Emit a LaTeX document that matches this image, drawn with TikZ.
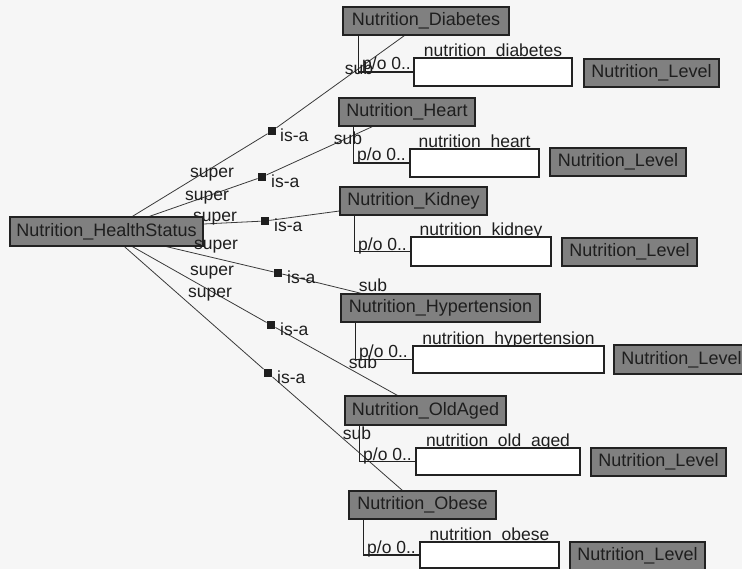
\documentclass[tikz,border=0pt]{standalone}
\usepackage{fontspec}
\setmainfont{Liberation Sans}
\definecolor{paper}{HTML}{F6F6F6}
\definecolor{boxfill}{HTML}{808080}
\definecolor{boxedge}{HTML}{222222}
\definecolor{ink}{HTML}{1E1E1E}
\definecolor{linecol}{HTML}{3A3A3A}
\begin{document}
\begin{tikzpicture}[x=1pt,y=-1pt,
  cls/.style={draw=boxedge, fill=boxfill, line width=1.2pt, inner sep=0pt,
    minimum height=28pt, font=\fontsize{18}{20}\selectfont, text=ink},
  slot/.style={draw=boxedge, fill=white, line width=1.1pt, inner sep=0pt,
    minimum height=28pt},
  lbl/.style={inner sep=0pt, font=\fontsize{17.5}{20}\selectfont, text=ink},
  link/.style={draw=linecol, line width=0.8pt},
  isamark/.style={fill=ink, inner sep=0pt, minimum size=8.5pt},
  slotline/.style={draw=boxedge, line width=1.1pt}
]
\clip (0,0) rectangle (742,569);
\fill[paper] (0,0) rectangle (742,569);

% ---- class boxes (top level) ----
\node[cls, minimum width=193pt, minimum height=29pt] (hs) at (106.5,231.5) {};
\node[cls, minimum width=166pt] (diab) at (426,21) {};
\node[cls, minimum width=136pt] (heart) at (407,112) {};
\node[cls, minimum width=147pt] (kid) at (413.5,201) {};
\node[cls, minimum width=199pt] (hyp) at (440.5,308) {};
\node[cls, minimum width=161pt, minimum height=29pt] (old) at (425.5,410.5) {};
\node[cls, minimum width=147pt] (obese) at (422.5,505) {};

% ---- is-a markers ----
\node[isamark] (m1) at (272,131) {};
\node[isamark] (m2) at (262,177) {};
\node[isamark] (m3) at (265,221) {};
\node[isamark] (m4) at (278,273) {};
\node[isamark] (m5) at (271,325) {};
\node[isamark] (m6) at (268,373) {};

% ---- is-a connectors ----
\draw[link] ([xshift=123pt]hs.north west) -- (m1) -- ([xshift=62pt]diab.south west);
\draw[link] ([xshift=140pt]hs.north west) -- (m2) -- ([xshift=34pt]heart.south west);
\draw[link] ([yshift=7.5pt]hs.east) -- (m3) -- ([yshift=-10pt]kid.west);
\draw[link] ([xshift=157pt]hs.south west) -- (m4) -- ([xshift=21pt]hyp.north west);
\draw[link] ([xshift=123pt]hs.south west) -- (m5) -- ([xshift=53pt]old.north west);
\draw[link] ([xshift=115pt]hs.south west) -- (m6) -- ([xshift=54pt]obese.north west);

% ---- super labels (the third one sits under the root box) ----
\node[lbl] (sp1) at (212,175) {super};
\node[lbl] (sp2) at (207,198) {super};
\node[lbl] (sp3) at (215,219) {super};

% root box and class boxes redrawn on top of the connectors
\node[cls, minimum width=193pt, minimum height=29pt] at (hs) {Nutrition\_HealthStatus};
\node[cls, minimum width=166pt] at (diab) {Nutrition\_Diabetes};
\node[cls, minimum width=136pt] at (heart) {Nutrition\_Heart};
\node[cls, minimum width=147pt] at (kid) {Nutrition\_Kidney};
\node[cls, minimum width=199pt] at (hyp) {Nutrition\_Hypertension};
\node[cls, minimum width=161pt, minimum height=29pt] at (old) {Nutrition\_OldAged};
\node[cls, minimum width=147pt] at (obese) {Nutrition\_Obese};

\node[lbl] (sp4) at (216,247) {super};
\node[lbl] (sp5) at (212,273) {super};
\node[lbl] (sp6) at (210,295) {super};

% ---- is-a texts ----
\node[lbl, anchor=west] (t1) at (280,135) {is-a};
\node[lbl, anchor=west] (t2) at (271,181) {is-a};
\node[lbl, anchor=west] (t3) at (274,225) {is-a};
\node[lbl, anchor=west] (t4) at (287,277) {is-a};
\node[lbl, anchor=west] (t5) at (280,329) {is-a};
\node[lbl, anchor=west] (t6) at (277,377) {is-a};

% ---- sub labels ----
\node[lbl] (sb1) at (359,68) {sub};
\node[lbl] (sb2) at (348,138) {sub};
\node[lbl] (sb4) at (373,285) {sub};
\node[lbl] (sb5) at (363,362) {sub};
\node[lbl] (sb6) at (357,433) {sub};

% ---- slot names (the underscores run into the slot box edge) ----
\node[lbl, anchor=base] (n1) at (493,56.8) {nutrition\_diabetes};
\node[lbl, anchor=base] (n2) at (474.5,147.8) {nutrition\_heart};
\node[lbl, anchor=base] (n3) at (481,235.8) {nutrition\_kidney};
\node[lbl, anchor=base] (n4) at (508.5,344.8) {nutrition\_hypertension};
\node[lbl, anchor=base] (n5) at (498,446.8) {nutrition\_old\_aged};
\node[lbl, anchor=base] (n6) at (489.5,540.8) {nutrition\_obese};

% ---- slot boxes ----
\node[slot, minimum width=158pt] (s1) at (493,72) {};
\node[slot, minimum width=129pt] (s2) at (474.5,163) {};
\node[slot, minimum width=140pt, minimum height=29pt] (s3) at (481,251.5) {};
\node[slot, minimum width=191pt, minimum height=27pt] (s4) at (508.5,359.5) {};
\node[slot, minimum width=164pt, minimum height=27pt] (s5) at (498,461.5) {};
\node[slot, minimum width=139pt, minimum height=26pt] (s6) at (489.5,555) {};

% ---- slot connectors ----
\draw[slotline] ([xshift=16pt]diab.south west) |- (s1.west);
\draw[slotline] ([xshift=15pt]heart.south west) |- (s2.west);
\draw[slotline] ([xshift=15pt]kid.south west) |- (s3.west);
\draw[slotline] ([xshift=15pt]hyp.south west) |- (s4.west);
\draw[slotline] ([xshift=15pt]old.south west) |- (s5.west);
\draw[slotline] ([xshift=15pt]obese.south west) |- (s6.west);

% ---- cardinality labels ----
\node[lbl, anchor=base west] (p1) at (362,70) {p/o 0..};
\node[lbl, anchor=base west] (p2) at (357,161) {p/o 0..};
\node[lbl, anchor=base west] (p3) at (358,251) {p/o 0..};
\node[lbl, anchor=base west] (p4) at (359,358) {p/o 0..};
\node[lbl, anchor=base west] (p5) at (363,460) {p/o 0..};
\node[lbl, anchor=base west] (p6) at (367,553) {p/o 0..};

% ---- value type boxes ----
\node[cls, minimum width=135pt] (v1) at (651.5,73) {Nutrition\_Level};
\node[cls, minimum width=136pt] (v2) at (618,162) {Nutrition\_Level};
\node[cls, minimum width=135pt] (v3) at (629.5,252) {Nutrition\_Level};
\node[cls, minimum width=135pt, minimum height=29pt] (v4) at (681.5,359.5) {Nutrition\_Level};
\node[cls, minimum width=135pt] (v5) at (658.5,462) {Nutrition\_Level};
\node[cls, minimum width=135pt] (v6) at (637.5,556) {Nutrition\_Level};
\end{tikzpicture}
\end{document}
